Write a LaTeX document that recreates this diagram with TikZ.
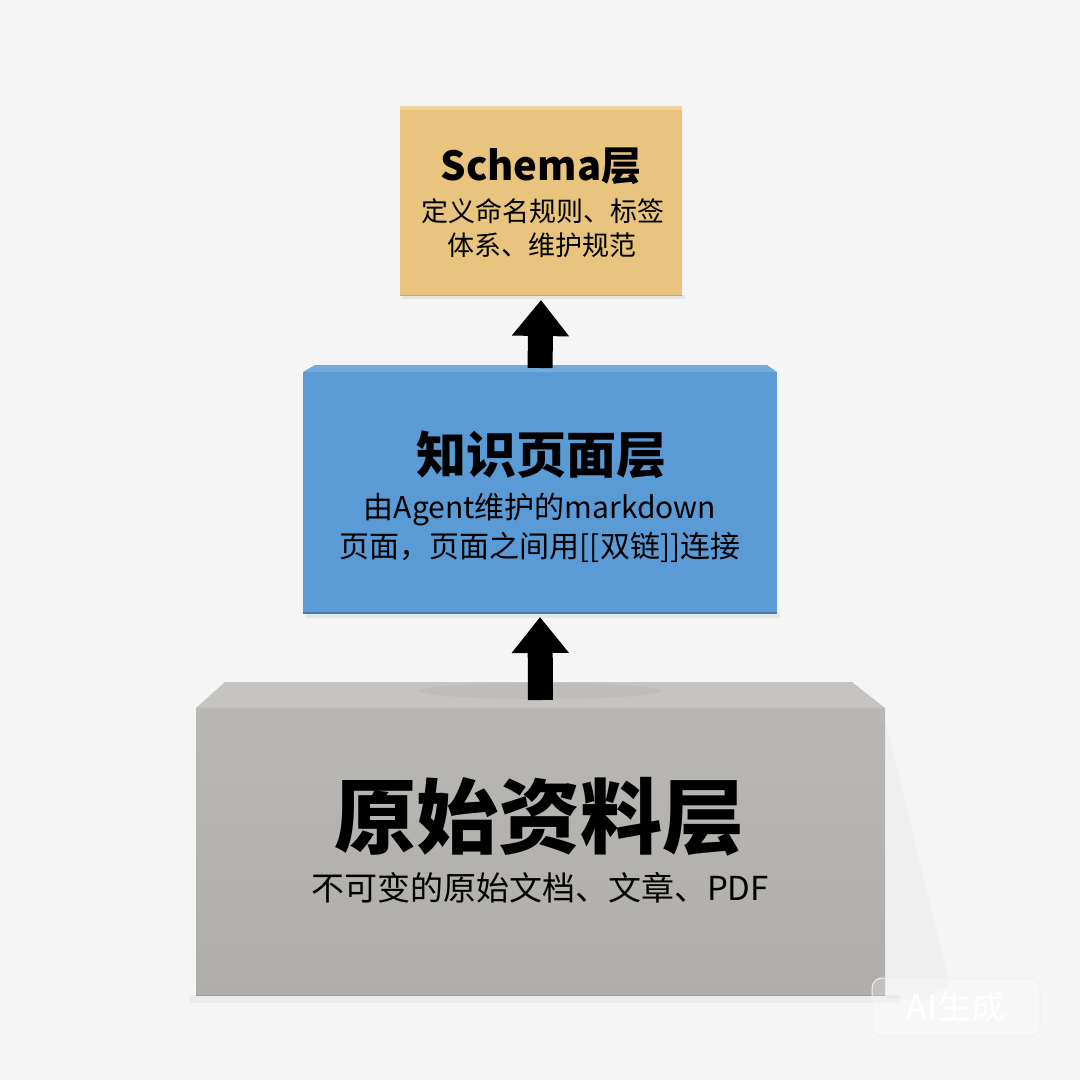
\documentclass[tikz,border=0pt]{standalone}
\usepackage{fontspec}
\setmainfont{Noto Sans CJK SC}
\usetikzlibrary{arrows.meta}
\definecolor{bgc}{HTML}{F5F5F5}
\definecolor{yelF}{HTML}{E8C47F}
\definecolor{yelT}{HTML}{F0D49C}
\definecolor{yelE}{HTML}{C9A564}
\definecolor{bluF}{HTML}{5A9BD5}
\definecolor{bluT}{HTML}{72ABDE}
\definecolor{bluE}{HTML}{3F7DB5}
\definecolor{gryF}{HTML}{B9B7B4}
\definecolor{gryF2}{HTML}{B0AEAB}
\definecolor{gryT}{HTML}{C6C4C1}
\definecolor{gryE}{HTML}{9C9A97}
\begin{document}
\begin{tikzpicture}[x=1pt,y=-1pt,
  face/.style={rectangle,inner sep=0pt,outer sep=0pt,draw=none},
  txt/.style={inner sep=0pt,text=black,align=center},
  bigarrow/.style={line width=25pt,black,-{Triangle[width=55pt,length=36pt]}}]
\useasboundingbox (0,0) rectangle (1080,1080);
\fill[bgc] (0,0) rectangle (1080,1080);
% soft shadows
\fill[black,opacity=0.025] (885,720) -- (950,985) -- (925,1000) -- (885,998) -- cycle;
\fill[black,opacity=0.04] (190,995) rectangle (900,1003);
\fill[black,opacity=0.06] (306,613) rectangle (780,618);
\fill[black,opacity=0.06] (402,295) rectangle (685,299);
% top box
\node[face,fill=yelF,minimum width=282pt,minimum height=189pt] (schema) at (541,200.5) {};
\fill[yelT] (400,106) rectangle (682,110);
\draw[yelE,line width=1pt] (400,295) -- (682,295);
% middle box
\node[face,fill=bluF,minimum width=474pt,minimum height=241pt] (wiki) at (540,492.5) {};
\fill[bluT] (303,372) -- (315,365) -- (767,365) -- (777,372) -- cycle;
\draw[bluE,line width=1.2pt] (303,613) -- (777,613);
% bottom box
\node[face,top color=gryF,bottom color=gryF2,minimum width=689pt,minimum height=287pt] (raw) at (540.5,851.5) {};
\fill[gryT] (196,708) -- (225,682) -- (852,682) -- (885,708) -- cycle;
\fill[black,opacity=0.035] (540,691) ellipse (120pt and 8pt);
\draw[gryE,line width=1pt] (196,995) -- (885,995);
% arrows
\draw[bigarrow] ([yshift=4pt]wiki.north) -- ([yshift=-5pt]schema.south);
\draw[bigarrow] ([yshift=8pt]raw.north) -- ([yshift=-4pt]wiki.south);
% texts
\node[txt,font=\fontsize{40}{48}\selectfont\bfseries] (st) at (541,166) {Schema层};
\node[txt,font=\fontsize{27}{32}\selectfont] (s1) at (543,211) {定义命名规则、标签};
\node[txt,font=\fontsize{27}{32}\selectfont] (s2) at (542,245) {体系、维护规范};
\node[txt,font=\fontsize{50}{60}\selectfont\bfseries] (wt) at (541,455) {知识页面层};
\node[txt,font=\fontsize{30}{36}\selectfont] (w1) at (540,510) {由Agent维护的markdown};
\node[txt,font=\fontsize{30}{36}\selectfont] (w2) at (540,547) {页面，页面之间用[[双链]]连接};
\node[txt,font=\fontsize{82}{96}\selectfont\bfseries] (rt) at (539,817) {原始资料层};
\node[txt,font=\fontsize{33}{40}\selectfont] (r1) at (540,888) {不可变的原始文档、文章、PDF};
% watermark
\node[draw=black!6,line width=1pt,fill=white,fill opacity=0.25,text opacity=0.9,rounded corners=10pt,minimum width=168pt,minimum height=58pt,text=white,font=\fontsize{34}{40}\selectfont] (wm) at (956,1007) {AI生成};
\end{tikzpicture}
\end{document}
